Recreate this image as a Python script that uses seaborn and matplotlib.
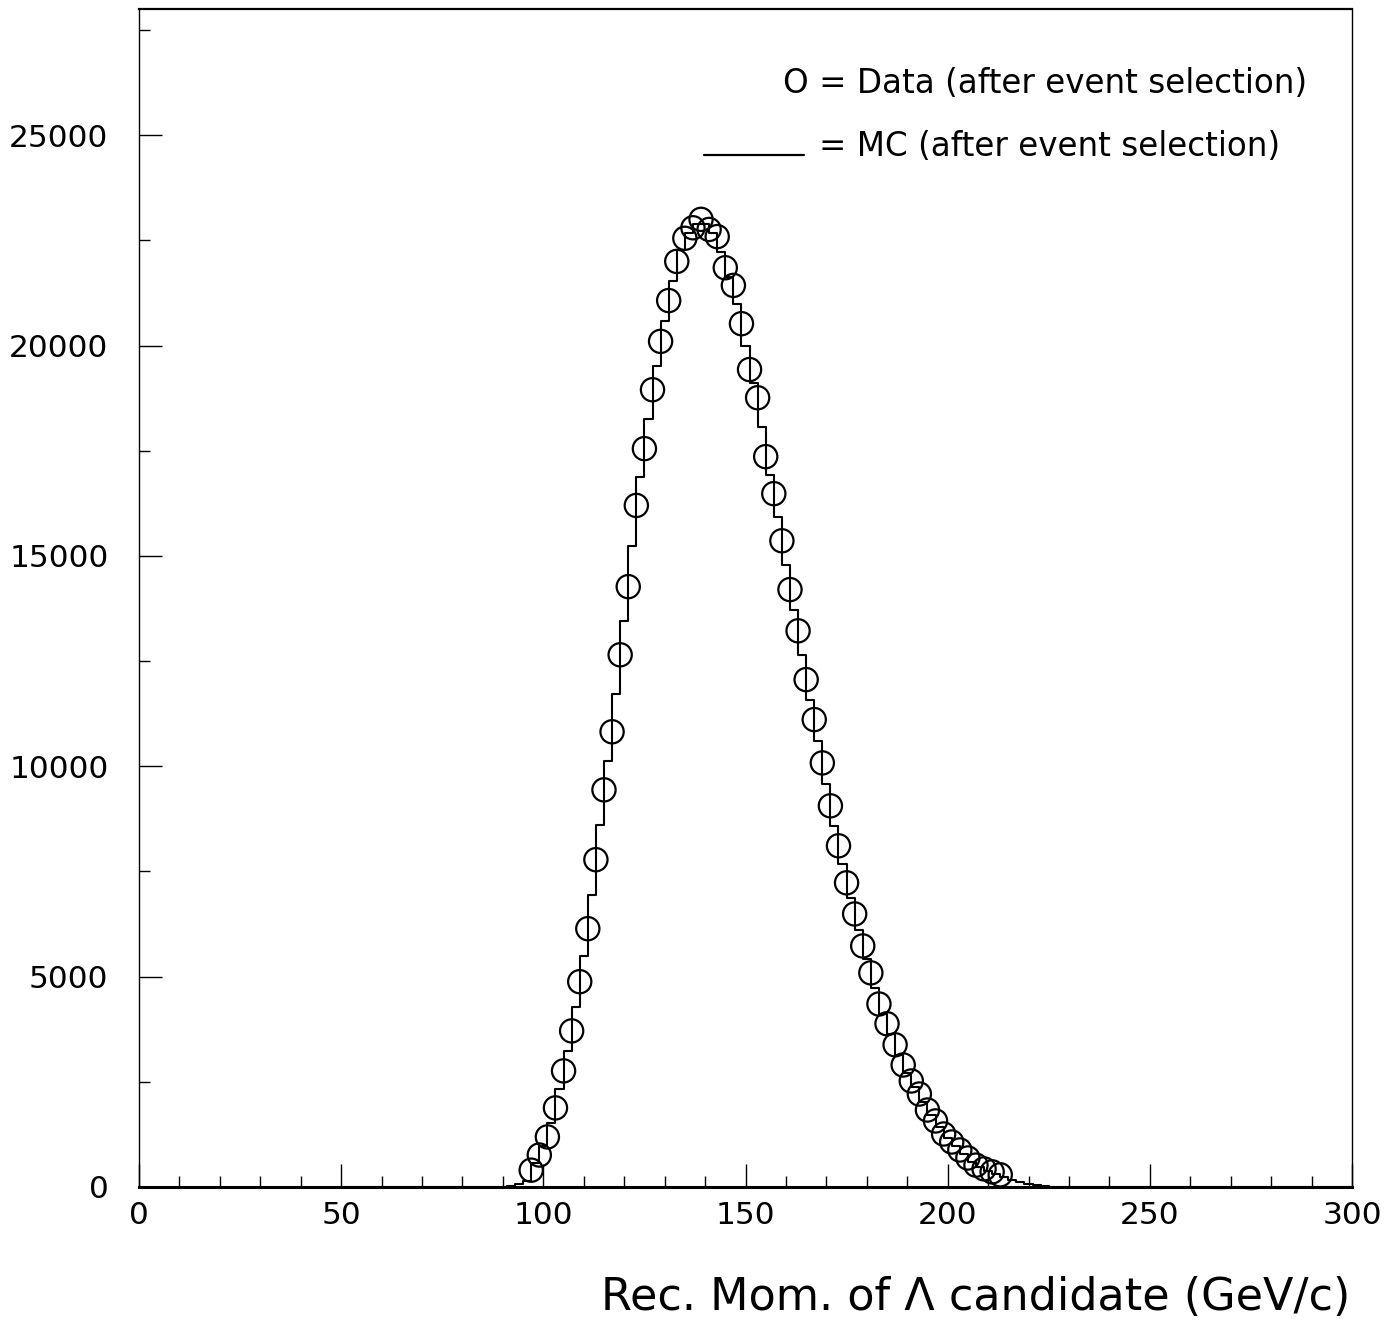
import numpy as np
import pandas as pd
import matplotlib
matplotlib.use("Agg")
import matplotlib.pyplot as plt
import seaborn as sns
from matplotlib.ticker import MultipleLocator

# Data points (bin centres, counts)
data_x = [97, 99, 101, 103, 105, 107, 109, 111, 113, 115, 117, 119, 121, 123, 125,
          127, 129, 131, 133, 135, 137, 139, 141, 143, 145, 147, 149, 151, 153, 155,
          157, 159, 161, 163, 165, 167, 169, 171, 173, 175, 177, 179, 181, 183, 185,
          187, 189, 191, 193, 195, 197, 199, 201, 203, 205, 207, 209, 211, 213]
data_y = [400, 760, 1190, 1880, 2760, 3710, 4880, 6140, 7780, 9440, 10820, 12650, 14270, 16200, 17550,
          18950, 20100, 21070, 22000, 22550, 22800, 23000, 22760, 22590, 21850, 21430, 20520, 19430, 18760, 17360,
          16480, 15360, 14200, 13220, 12060, 11110, 10080, 9060, 8110, 7230, 6490, 5730, 5090, 4350, 3880,
          3380, 2900, 2520, 2210, 1830, 1570, 1260, 1070, 880, 690, 520, 430, 360, 290]

# MC histogram (bin centres, contents), bins of width 2
mc_x = [90, 92, 94, 96, 98, 100, 102, 104, 106, 108, 110, 112, 114, 116, 118, 120, 122,
        124, 126, 128, 130, 132, 134, 136, 138, 140, 142, 144, 146, 148, 150, 152, 154,
        156, 158, 160, 162, 164, 166, 168, 170, 172, 174, 176, 178, 180, 182, 184, 186,
        188, 190, 192, 194, 196, 198, 200, 202, 204, 206, 208, 210, 212, 214, 216, 218,
        220, 222, 224]
mc_y = [10, 25, 60, 150, 580, 975, 1530, 2320, 3230, 4290, 5500, 6950, 8600, 10130, 11730, 13460, 15230,
        16870, 18250, 19520, 20580, 21530, 22270, 22680, 22900, 22880, 22680, 22220, 21640, 20980, 19980, 19100, 18060,
        16920, 15920, 14780, 13710, 12640, 11580, 10590, 9570, 8590, 7670, 6860, 6110, 5410, 4720, 4110, 3630,
        3140, 2710, 2370, 2020, 1700, 1415, 1165, 975, 785, 605, 475, 390, 320, 240, 170, 110,
        70, 40, 20]

mc_edges = list(range(51, 302, 2))

sns.set_style("white")
plt.rcParams['font.family'] = ['DejaVu Sans']
plt.rcParams['text.color'] = 'black'
plt.rcParams['xtick.labelcolor'] = 'black'
plt.rcParams['ytick.labelcolor'] = 'black'

fig = plt.figure(figsize=(13.96, 13.31), dpi=100)
ax = fig.add_axes([139/1396, 1 - 1187/1331, (1352-139)/1396, (1187-9)/1331])

mc_df = pd.DataFrame({"p": mc_x, "w": mc_y})
sns.histplot(data=mc_df, x="p", weights="w", bins=mc_edges, element="step",
             fill=False, color="black", linewidth=1.5, ax=ax)

d_df = pd.DataFrame({"p": data_x, "n": data_y})
sns.scatterplot(data=d_df, x="p", y="n", marker="o", s=280, facecolors="none",
                edgecolor="black", linewidth=1.6, ax=ax, zorder=3)

ax.set_xlim(0, 300)
ax.set_ylim(0, 28000)
ax.xaxis.set_major_locator(MultipleLocator(50))
ax.xaxis.set_minor_locator(MultipleLocator(10))
ax.yaxis.set_major_locator(MultipleLocator(5000))
ax.yaxis.set_minor_locator(MultipleLocator(2500))
ax.tick_params(axis='both', which='major', direction='in', length=16.5, width=1.0,
               labelsize=22.5, color='black', labelcolor='black')
ax.tick_params(axis='both', which='minor', direction='in', length=8, width=1.0, color='black')
ax.tick_params(axis='x', which='both', top=False, bottom=True, pad=10)
ax.tick_params(axis='y', which='both', left=True, right=False, pad=22)
ax.set_xlabel("")
ax.set_ylabel("")

for s in ['left', 'right']:
    ax.spines[s].set_linewidth(1.0)
ax.spines['top'].set_linewidth(1.6)
ax.spines['bottom'].set_linewidth(2.2)
for s in ax.spines.values():
    s.set_color('black')

fig.text(1350/1396, 1 - 1298/1331, "Rec. Mom. of \u039b candidate (GeV/c)",
         ha='right', va='center', fontsize=32, color='black')

ax.text(0.531, 0.937, "O = Data (after event selection)", transform=ax.transAxes,
        ha='left', va='center', fontsize=23.5, color='black')
ax.plot([0.466, 0.548], [0.876, 0.876], transform=ax.transAxes, color='black', lw=1.6)
ax.text(0.561, 0.883, "= MC (after event selection)", transform=ax.transAxes,
        ha='left', va='center', fontsize=23.5, color='black')

fig.savefig("out.png", dpi=100)
